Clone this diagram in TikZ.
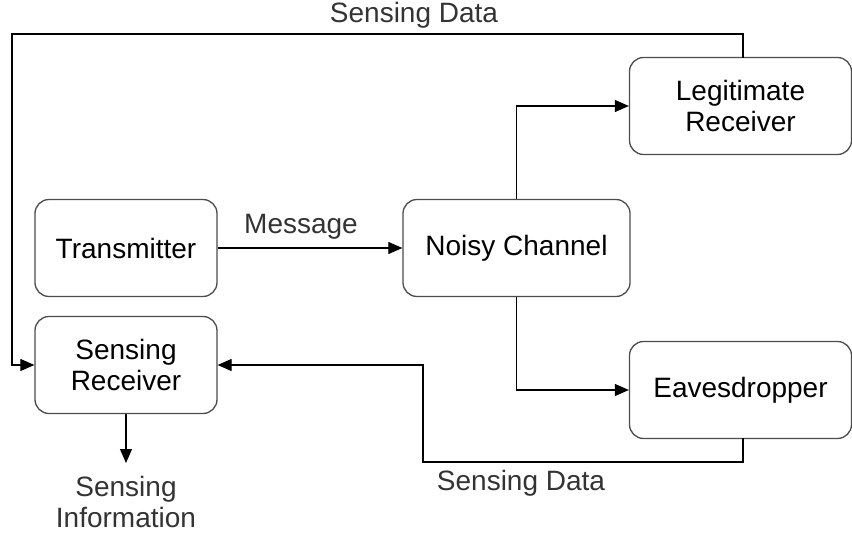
\documentclass[tikz,border=0pt]{standalone}
\usepackage{fontspec}
\setmainfont{Liberation Sans}
\usetikzlibrary{arrows.meta}
\begin{document}
\begin{tikzpicture}[x=1pt,y=-1pt,
  blk/.style={draw=black!70,line width=1.3pt,rounded corners=14pt,minimum width=182pt,minimum height=97pt,align=center,inner sep=0pt,font=\fontsize{28}{31}\selectfont},
  wide/.style={blk,minimum width=222pt},
  chan/.style={blk,minimum width=227pt},
  lbl/.style={text=black!80,font=\fontsize{28}{31}\selectfont,align=center,inner sep=0pt},
  conn/.style={draw=black,line width=1.1pt,-{Triangle[length=14pt,width=12pt]}}]
\useasboundingbox (0,0) rectangle (852,537);
\node[blk] (tx) at (126,248) {Transmitter};
\node[blk] (sr) at (126,365) {Sensing\\Receiver};
\node[chan] (nc) at (516.5,248) {Noisy Channel};
\node[wide] (lr) at (740.5,106) {Legitimate\\Receiver};
\node[wide] (ev) at (740.5,390) {Eavesdropper};
\node[lbl] (msg) at (301,227) {Message};
\node[lbl,anchor=base] (sdtop) at (414,23) {Sensing Data};
\node[lbl] (sdbot) at (521,483) {Sensing Data};
\node[lbl] (si) at (126,502) {Sensing\\Information};
\coordinate (lrtop) at (743,58);
\coordinate (evbot) at (743,438);
\coordinate (siend) at (126,463);
\draw[conn] (tx.east) -- (nc.west);
\draw[conn] (nc.north) |- (lr.west);
\draw[conn] (nc.south) |- (ev.west);
\draw[conn] (lrtop) -- (743,34) -- (12,34) |- (sr.west);
\draw[conn] (evbot) -- (743,462) -- (423,462) |- (sr.east);
\draw[conn] (sr.south) -- (siend);
\end{tikzpicture}
\end{document}
